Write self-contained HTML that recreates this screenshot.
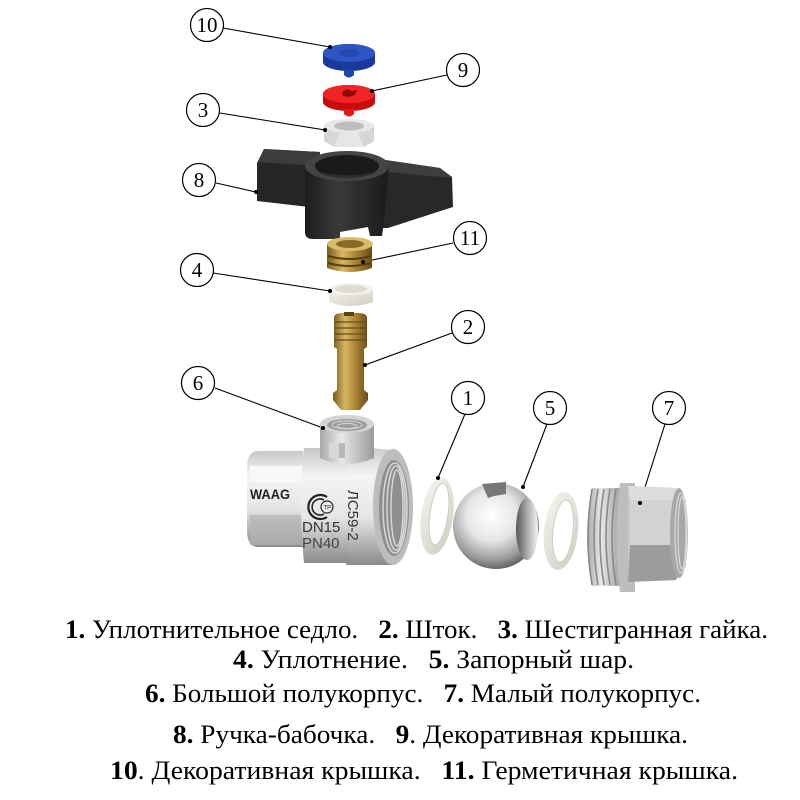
<!DOCTYPE html>
<html><head><meta charset="utf-8"><style>
html,body{margin:0;padding:0;background:#fff;}
svg{display:block;}
</style></head><body>
<svg width="800" height="800" viewBox="0 0 800 800" xmlns="http://www.w3.org/2000/svg">
<defs>
<linearGradient id="brassH" x1="0" x2="1" y1="0" y2="0">
<stop offset="0" stop-color="#7a5a1c"/><stop offset="0.35" stop-color="#d8b864"/><stop offset="0.6" stop-color="#b08a3a"/><stop offset="1" stop-color="#6a4c18"/></linearGradient>
<linearGradient id="blackH" x1="0" x2="1" y1="0" y2="0">
<stop offset="0" stop-color="#1c1c1c"/><stop offset="0.4" stop-color="#3a3a3a"/><stop offset="1" stop-color="#1a1a1a"/></linearGradient>
<linearGradient id="silverV" x1="0" x2="0" y1="0" y2="1">
<stop offset="0" stop-color="#c8c8c8"/><stop offset="0.25" stop-color="#f4f4f4"/><stop offset="0.6" stop-color="#e6e6e6"/><stop offset="1" stop-color="#8a8a8a"/></linearGradient>
<linearGradient id="silverH" x1="0" x2="1" y1="0" y2="0">
<stop offset="0" stop-color="#a8a8a8"/><stop offset="0.4" stop-color="#e8e8e8"/><stop offset="1" stop-color="#9a9a9a"/></linearGradient>
<radialGradient id="ball" cx="0.45" cy="0.38" r="0.65">
<stop offset="0" stop-color="#ffffff"/><stop offset="0.45" stop-color="#e6e6e6"/><stop offset="0.8" stop-color="#9a9a9a"/><stop offset="1" stop-color="#555"/></radialGradient>
<linearGradient id="bore" x1="0" x2="1" y1="0" y2="0">
<stop offset="0" stop-color="#555"/><stop offset="0.5" stop-color="#aaa"/><stop offset="1" stop-color="#f4f4f4"/></linearGradient>
<linearGradient id="ringG" x1="0" x2="1" y1="0" y2="1">
<stop offset="0" stop-color="#f6f5ef"/><stop offset="1" stop-color="#cfcdc2"/></linearGradient>
</defs>

<!-- leader lines -->
<g stroke="#000" stroke-width="1.1" fill="none">
<line x1="223" y1="28" x2="330" y2="47"/>
<line x1="447" y1="75" x2="372" y2="91"/>
<line x1="220" y1="113" x2="325" y2="130"/>
<line x1="216" y1="183" x2="256" y2="192"/>
<line x1="453" y1="243" x2="363" y2="262"/>
<line x1="213" y1="273" x2="330" y2="291"/>
<line x1="452" y1="333" x2="365" y2="365"/>
<line x1="215" y1="388" x2="323" y2="428"/>
<line x1="465" y1="414" x2="438" y2="478"/>
<line x1="547" y1="424" x2="523" y2="487"/>
<line x1="665" y1="424" x2="640" y2="503"/>
</g>

<!-- 10 blue cap -->
<path d="M323,53 A26,9 0 0 1 375,53 L375,62 A26,9 0 0 1 323,62 Z" fill="#173a9c"/>
<ellipse cx="349" cy="53" rx="26" ry="9" fill="#2d55c4"/>
<ellipse cx="349" cy="53" rx="10" ry="4" fill="#2448ae"/>
<path d="M344,69 L354,69 L354,75 Q349,80 344,75 Z" fill="#1e44b0"/>

<!-- 9 red cap -->
<path d="M323,94 A26,9 0 0 1 375,94 L375,102 A26,9 0 0 1 323,102 Z" fill="#c80c0c"/>
<ellipse cx="349" cy="94" rx="26" ry="9" fill="#f02424"/>
<path d="M342,92 L347,89 L352,91 L357,90 L355,95 L349,97 L343,96 Z" fill="#8a0a0a"/>
<path d="M344,109 L354,109 L354,114 Q349,119 344,114 Z" fill="#e01818"/>

<!-- 3 nut -->
<path d="M324,126 L334,120 L364,120 L374,126 L374,141 L364,147 L334,147 L324,141 Z" fill="#c4c4c4"/>
<path d="M324,130 L374,130 L374,141 L364,147 L334,147 L324,141 Z" fill="#d6d6d6"/>
<path d="M340,132 L358,132 L364,147 L334,147 Z" fill="#e6e6e6"/>
<ellipse cx="349" cy="126" rx="25" ry="7" fill="#e8e8e8"/>
<ellipse cx="349" cy="126" rx="15" ry="4.5" fill="#bdbdbd"/>

<!-- 8 handle -->
<polygon points="264,149 320,152 318,208 257,201 257,163" fill="#262626"/>
<polygon points="264,149 320,152 318,166 258,162" fill="#3c3c3c"/>
<polygon points="372,158 440,168 452,177 453,207 388,228 372,228" fill="#282828"/>
<polygon points="372,158 440,168 452,178 386,172" fill="#3e3e3e"/>
<path d="M305,166 L305,232 Q305,239 313,239 L340,239 L340,232 L368,227 L370,236 L382,236 L384,222 L389,166 Z" fill="url(#blackH)"/>
<ellipse cx="347" cy="166" rx="42" ry="15" fill="#444"/>
<ellipse cx="347" cy="166" rx="32" ry="11" fill="#1a1a1a"/>
<path d="M316,170 A32,11 0 0 0 378,170 A32,7 0 0 1 316,170 Z" fill="#2e2e2e"/>

<!-- 11 brass cap -->
<path d="M327,244 L372,244 L372,268 Q350,276 327,268 Z" fill="url(#brassH)"/>
<g stroke="#5a4010" stroke-width="2" fill="none">
<path d="M328,256 Q350,262 371,256"/>
<path d="M328,263 Q350,269 371,263"/>
</g>
<ellipse cx="350" cy="244" rx="23" ry="7" fill="#d9bb6c"/>
<ellipse cx="350" cy="244" rx="14" ry="4" fill="#8a6a28"/>

<!-- 4 white ring -->
<path d="M329,289 L373,289 L373,302 Q351,310 329,302 Z" fill="url(#ringG)"/>
<ellipse cx="351" cy="289" rx="22" ry="6" fill="#f4f3ee"/>
<ellipse cx="351" cy="289" rx="16" ry="4" fill="#dedcd2"/>

<!-- 2 stem -->
<path d="M334,318 Q334,313 342,313 L358,313 Q367,313 367,318 L367,347 L364,349 L364,390 L368,393 L368,400 L360,410 L341,410 L333,400 L333,393 L337,390 L337,349 L334,347 Z" fill="url(#brassH)"/>
<g stroke="#6a4c18" stroke-width="1.2">
<line x1="334" y1="322" x2="367" y2="322"/>
<line x1="334" y1="328" x2="367" y2="328"/>
<line x1="334" y1="334" x2="367" y2="334"/>
<line x1="334" y1="340" x2="367" y2="340"/>
</g>
<rect x="344" y="312" width="10" height="4" fill="#5a4212"/>

<!-- 6 valve body -->
<path d="M258,451 L303,451 L303,547 L258,547 Q247,547 247,530 L247,468 Q247,451 258,451 Z" fill="url(#silverV)"/>
<rect x="250" y="466" width="52" height="16" fill="#f8f8f8"/>
<rect x="250" y="515" width="52" height="30" fill="#b4b4b4" opacity="0.7"/>
<path d="M304,448 Q298,505 304,563 L350,563 Q356,505 350,448 Z" fill="url(#silverV)"/>
<path d="M346,446 L392,450 L392,565 L346,565 Q352,505 346,446 Z" fill="url(#silverV)"/>
<ellipse cx="393" cy="507" rx="20" ry="58" fill="#bdbdbd"/>
<ellipse cx="394" cy="508" rx="15" ry="48" fill="#8e8e8e"/>
<g fill="none" stroke="#d6d6d6" stroke-width="1.5">
<ellipse cx="395" cy="508" rx="12" ry="45"/>
<ellipse cx="396" cy="508" rx="9" ry="42"/>
<ellipse cx="397" cy="508" rx="6" ry="38"/>
</g>
<path d="M320,424 L374,424 L374,458 Q347,470 320,458 Z" fill="url(#silverH)"/>
<ellipse cx="347" cy="424" rx="27" ry="9" fill="#d4d4d4"/>
<ellipse cx="347" cy="425" rx="20" ry="6" fill="#9c9c9c"/>
<g fill="none" stroke="#d8d8d8" stroke-width="1"><ellipse cx="347" cy="425" rx="15" ry="4"/><ellipse cx="347" cy="426" rx="10" ry="2.5"/></g>
<rect x="329" y="443" width="16" height="15" fill="#b8b8b8"/>
<rect x="329" y="443" width="10" height="15" fill="#d8d8d8"/>
<text x="250" y="499" font-family="Liberation Sans, sans-serif" font-weight="bold" font-size="14" fill="#222" textLength="40" lengthAdjust="spacingAndGlyphs">WAAG</text>
<path d="M327,497 A12,12 0 1 0 327,517" fill="none" stroke="#222" stroke-width="2.2"/>
<path d="M324,500 A8,8 0 1 0 324,514" fill="none" stroke="#222" stroke-width="1.6"/>
<circle cx="327" cy="507" r="6" fill="#eee" stroke="#222" stroke-width="1.2"/>
<text x="323.5" y="509.5" font-family="Liberation Sans, sans-serif" font-size="6" fill="#222">ТР</text>
<text x="302" y="532" font-family="Liberation Sans, sans-serif" font-size="15" fill="#333">DN15</text>
<text x="302" y="548" font-family="Liberation Sans, sans-serif" font-size="15" fill="#444">PN40</text>
<text transform="translate(348,490) rotate(90)" font-family="Liberation Sans, sans-serif" font-size="15" fill="#333">ЛС59-2</text>

<!-- 1 ring -->
<ellipse cx="437" cy="516" rx="16" ry="39" fill="url(#ringG)" transform="rotate(8 437 516)"/>
<ellipse cx="439" cy="514" rx="9" ry="31" fill="#fff" stroke="#cfcdc2" stroke-width="1" transform="rotate(8 439 514)"/>

<!-- 5 ball -->
<circle cx="496" cy="526" r="43" fill="url(#ball)"/>
<ellipse cx="527" cy="529" rx="11" ry="31" fill="url(#bore)"/>
<path d="M482,484 L506,482 L506,494 L494,496 L488,498 Z" fill="#777"/>

<!-- ring 2 -->
<ellipse cx="561" cy="531" rx="17" ry="39" fill="url(#ringG)" transform="rotate(6 561 531)"/>
<ellipse cx="563" cy="531" rx="10" ry="31" fill="#fff" stroke="#cfcdc2" stroke-width="1" transform="rotate(6 563 531)"/>

<!-- 7 union -->
<path d="M592,488 L622,488 L622,586 L592,586 Q582,537 592,488 Z" fill="url(#silverH)"/>
<g stroke="#8a8a8a" stroke-width="1.6" fill="none">
<path d="M592,489 Q584,537 592,585"/>
<path d="M598,489 Q590,537 598,585"/>
<path d="M604,489 Q596,537 604,585"/>
<path d="M610,489 Q602,537 610,585"/>
<path d="M616,489 Q608,537 616,585"/>
</g>
<path d="M620,483 L635,483 L635,592 L620,592 Q613,537 620,483 Z" fill="#bdbdbd"/>
<path d="M628,486 L676,488 L686,500 L686,566 L676,580 L628,582 Z" fill="#c8c8c8"/>
<polygon points="628,486 676,488 686,500 630,500" fill="#dcdcdc"/>
<polygon points="630,500 686,500 686,545 630,545" fill="#d2d2d2"/>
<polygon points="630,545 686,545 676,580 628,582" fill="#9c9c9c"/>
<ellipse cx="679" cy="533" rx="9" ry="45" fill="#a8a8a8"/>
<g fill="none" stroke="#d8d8d8" stroke-width="1.2"><ellipse cx="681" cy="533" rx="6" ry="40"/><ellipse cx="682" cy="533" rx="4" ry="36"/></g>

<!-- dots -->
<g fill="#000">
<circle cx="330" cy="47" r="2"/><circle cx="372" cy="91" r="2"/><circle cx="325" cy="130" r="2"/>
<circle cx="256" cy="192" r="2"/><circle cx="363" cy="262" r="2"/><circle cx="330" cy="291" r="2"/>
<circle cx="365" cy="365" r="2"/><circle cx="323" cy="428" r="2"/><circle cx="438" cy="478" r="2"/>
<circle cx="523" cy="487" r="2"/><circle cx="640" cy="503" r="2"/>
</g>

<!-- callout circles -->
<g fill="#fff" stroke="#000" stroke-width="1.2">
<circle cx="207" cy="25" r="16.5"/><circle cx="463" cy="70" r="16.5"/><circle cx="203" cy="110" r="16.5"/>
<circle cx="199" cy="180" r="16.5"/><circle cx="470" cy="238" r="16.5"/><circle cx="197" cy="270" r="16.5"/>
<circle cx="468" cy="327" r="16.5"/><circle cx="198" cy="383" r="16.5"/><circle cx="468" cy="398" r="16.5"/>
<circle cx="550" cy="408" r="16.5"/><circle cx="669" cy="408" r="16.5"/>
</g>
<g font-family="Liberation Serif, serif" font-size="21" fill="#000" text-anchor="middle">
<text x="207" y="32">10</text><text x="463" y="77">9</text><text x="203" y="117">3</text>
<text x="199" y="187">8</text><text x="470" y="245">11</text><text x="197" y="277">4</text>
<text x="468" y="334">2</text><text x="198" y="390">6</text><text x="468" y="405">1</text>
<text x="550" y="415">5</text><text x="669" y="415">7</text>
</g>

<!-- legend -->
<g font-family="Liberation Serif, 'Noto Serif CJK SC', serif" font-size="26" fill="#000">
<text x="65" y="638" textLength="703" lengthAdjust="spacingAndGlyphs"><tspan font-weight="bold">1.</tspan> Уплотнительное седло.&#160;&#160; <tspan font-weight="bold">2.</tspan> Шток.&#160;&#160; <tspan font-weight="bold">3.</tspan> Шестигранная гайка.</text>
<text x="233" y="668" textLength="401" lengthAdjust="spacingAndGlyphs"><tspan font-weight="bold">4.</tspan> Уплотнение.&#160;&#160; <tspan font-weight="bold">5.</tspan> Запорный шар.</text>
<text x="145" y="702" textLength="556" lengthAdjust="spacingAndGlyphs"><tspan font-weight="bold">6.</tspan> Большой полукорпус.&#160;&#160; <tspan font-weight="bold">7.</tspan> Малый полукорпус.</text>
<text x="173" y="743" textLength="515" lengthAdjust="spacingAndGlyphs"><tspan font-weight="bold">8.</tspan> Ручка-бабочка.&#160;&#160; <tspan font-weight="bold">9</tspan>. Декоративная крышка.</text>
<text x="110" y="779" textLength="628" lengthAdjust="spacingAndGlyphs"><tspan font-weight="bold">10</tspan>. Декоративная крышка.&#160;&#160; <tspan font-weight="bold">11.</tspan> Герметичная крышка.</text>
</g>
</svg>
</body></html>
